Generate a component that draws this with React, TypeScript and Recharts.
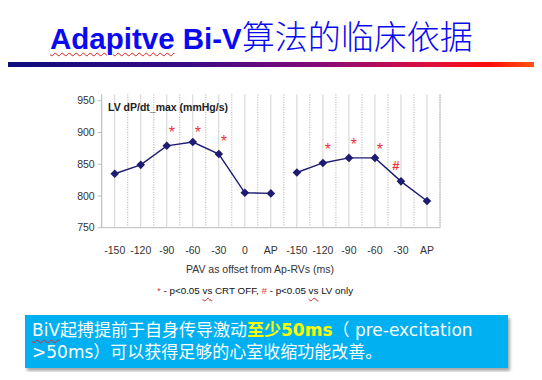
import React from 'react';
import { ComposedChart, Line, XAxis, YAxis, CartesianGrid } from 'recharts';

const categories = ['-150', '-120', '-90', '-60', '-30', '0', 'AP', '-150', '-120', '-90', '-60', '-30', 'AP'];
const biVOnlyLeft = [835, 849, 879, 885, 866, 805, 804];
const biVOnlyRight = [837, 852, 860, 860, 823, 792];
const starValues: (number | null)[] = [null, null, 906, 906, 892, null, null, null, 879, 886, 879, null, null];
const hashValues: (number | null)[] = [null, null, null, null, null, null, null, null, null, null, null, 849, null];
const yTicks = [750, 800, 850, 900, 950];

const data = categories.map((label, i) => ({
  idx: i,
  label,
  left: i < biVOnlyLeft.length ? biVOnlyLeft[i] : null,
  right: i >= biVOnlyLeft.length ? biVOnlyRight[i - biVOnlyLeft.length] : null,
  star: starValues[i],
  hash: hashValues[i],
}));

const NAVY = '#1e1c72';
const RED = '#e8333a';

const Diamond = (props: any) => {
  const { cx, cy, value, index } = props;
  if (value == null || cx == null || cy == null) return <g key={`d${index}`} />;
  const r = 4.3;
  return (
    <polygon
      key={`d${index}`}
      points={`${cx},${cy - r} ${cx + r},${cy} ${cx},${cy + r} ${cx - r},${cy}`}
      fill={NAVY}
    />
  );
};

const StarMark = (props: any) => {
  const { cx, cy, value, index } = props;
  if (value == null || cx == null || cy == null) return <g key={`s${index}`} />;
  return (
    <text key={`s${index}`} x={cx + 5} y={cy + 9} textAnchor="middle" fontSize={16} fill={RED} fontFamily="Liberation Sans, Arial, sans-serif">
      *
    </text>
  );
};

const HashMark = (props: any) => {
  const { cx, cy, value, index } = props;
  if (value == null || cx == null || cy == null) return <g key={`h${index}`} />;
  return (
    <text key={`h${index}`} x={cx - 5} y={cy + 5} textAnchor="middle" fontSize={13} fontWeight="bold" fill={RED} fontFamily="Liberation Sans, Arial, sans-serif">
      #
    </text>
  );
};

const boundaryGen = ({ offset }: any) => {
  const n = categories.length;
  const out: number[] = [];
  for (let i = 1; i <= n; i++) out.push(offset.left + (i * offset.width) / n);
  return out;
};

const wavy: React.CSSProperties = {
  textDecorationLine: 'underline',
  textDecorationStyle: 'wavy',
  textDecorationColor: '#e02020',
  textDecorationThickness: '1px',
  textUnderlineOffset: '3px',
};

export default function App() {
  return (
    <div
      style={{
        position: 'relative',
        width: 542,
        height: 380,
        margin: -8,
        background: '#ffffff',
        overflow: 'hidden',
        fontFamily: '"Liberation Sans", Arial, sans-serif',
      }}
    >
      {/* Title */}
      <div
        style={{
          position: 'absolute',
          left: 50,
          top: 15,
          whiteSpace: 'nowrap',
          color: '#0a0af0',
          lineHeight: '40px',
        }}
      >
        <span style={{ fontFamily: '"Liberation Sans", Arial, sans-serif', fontWeight: 'bold', fontSize: 29.5 }}>
          <span style={wavy}>Adapitve</span> Bi-V
        </span>
        <span style={{ fontFamily: '"Noto Sans CJK SC", sans-serif', fontSize: 33, fontWeight: 300 }}>算法的临床依据</span>
      </div>
      <div
        style={{
          position: 'absolute',
          left: 0,
          top: 62,
          width: 542,
          height: 5,
          background: 'linear-gradient(to right, #0c0c80 0%, #3a0a86 35%, #8a0a78 60%, #e0103a 80%, #ff0a0a 90%, #ff6010 100%)',
        }}
      />

      <div style={{ position: 'absolute', left: 0, top: 0 }}>
        <ComposedChart
          width={542}
          height={380}
          data={data}
          margin={{ top: 94.4, right: 102, bottom: 122.3, left: 61.7 }}
        >
          <CartesianGrid horizontal={false} vertical stroke="#d2d2d2" strokeWidth={1} />
          <CartesianGrid
            horizontal={false}
            vertical
            verticalCoordinatesGenerator={boundaryGen}
            stroke="#a8a8a8"
            strokeWidth={1}
            strokeDasharray="1 1.5"
          />
          <XAxis
            dataKey="idx"
            type="category"
            scale="band"
            interval={0}
            height={30}
            tickFormatter={(i: number) => categories[i]}
            axisLine={{ stroke: '#bdbdbd' }}
            tickLine={false}
            tickMargin={13}
            tick={{ fontSize: 10.5, fill: '#333' }}
          />
          <YAxis
            domain={[750, 960]}
            ticks={yTicks}
            width={40}
            tickSize={4}
            tickMargin={3}
            axisLine={{ stroke: '#bdbdbd' }}
            tickLine={{ stroke: '#bdbdbd' }}
            tick={{ fontSize: 10.5, fill: '#333' }}
          />
          <Line dataKey="left" stroke={NAVY} strokeWidth={1.4} dot={Diamond} activeDot={false} isAnimationActive={false} connectNulls={false} />
          <Line dataKey="right" stroke={NAVY} strokeWidth={1.4} dot={Diamond} activeDot={false} isAnimationActive={false} connectNulls={false} />
          <Line dataKey="star" stroke="none" dot={StarMark} activeDot={false} isAnimationActive={false} />
          <Line dataKey="hash" stroke="none" dot={HashMark} activeDot={false} isAnimationActive={false} />
        </ComposedChart>
      </div>

      <div
        style={{
          position: 'absolute',
          left: 108,
          top: 100,
          fontSize: 10.5,
          fontWeight: 'bold',
          color: '#222',
          whiteSpace: 'nowrap',
          lineHeight: '14px',
        }}
      >
        LV dP/dt_max (mmHg/s)
      </div>

      <div
        style={{
          position: 'absolute',
          left: 0,
          width: 520,
          textAlign: 'center',
          top: 262,
          fontSize: 10.5,
          color: '#333',
          whiteSpace: 'nowrap',
          lineHeight: '14px',
        }}
      >
        PAV as offset from Ap-RVs (ms)
      </div>

      <div
        style={{
          position: 'absolute',
          left: 157,
          top: 284,
          fontSize: 9.8,
          color: '#111',
          whiteSpace: 'nowrap',
          lineHeight: '13px',
        }}
      >
        <span style={{ color: RED }}>*</span> - p&lt;0.05 <span style={wavy}>vs</span> CRT OFF, <span style={{ color: RED }}>#</span> - p&lt;0.05{' '}
        <span style={wavy}>vs</span> LV only
      </div>

      <div
        style={{
          position: 'absolute',
          left: 25,
          top: 315,
          width: 483,
          height: 53,
          background: '#00b0f0',
          boxShadow: '2px 3px 3px rgba(0,0,0,0.35)',
          color: '#ffffff',
          fontFamily: '"DejaVu Sans", "Noto Sans CJK SC", sans-serif',
          fontSize: 17,
          lineHeight: '22px',
          padding: '4px 0 0 7px',
          boxSizing: 'border-box',
          whiteSpace: 'nowrap',
        }}
      >
        <div>
          <span style={wavy}>BiV</span>起搏提前于自身传导激动
          <span style={{ color: '#ffff00', fontWeight: 'bold' }}>至少50ms</span>（ pre-excitation
        </div>
        <div>&gt;50ms）可以获得足够的心室收缩功能改善。</div>
      </div>
    </div>
  );
}
